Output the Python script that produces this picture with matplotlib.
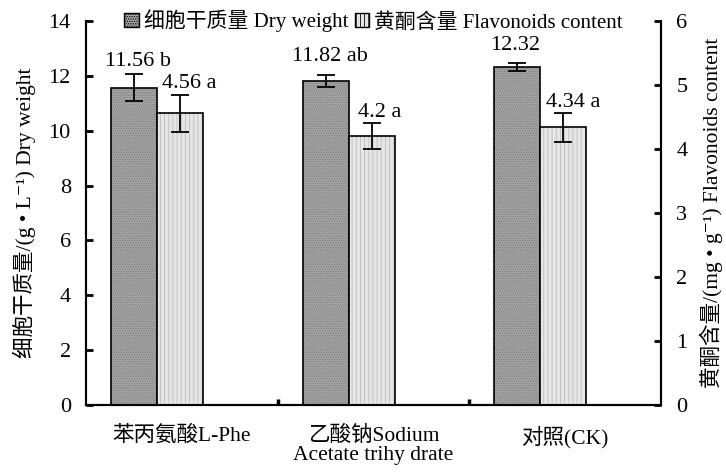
import matplotlib
matplotlib.use("Agg")
import matplotlib.pyplot as plt
from matplotlib.patches import Patch
import numpy as np

plt.rcParams['font.family'] = ['Liberation Serif', 'Noto Sans CJK SC', 'DejaVu Serif']
plt.rcParams['hatch.linewidth'] = 0.6

##### data
groups = ["苯丙氨酸L-Phe", "乙酸钠Sodium\nAcetate trihy drate", "对照(CK)"]
dry_weight = [11.56, 11.82, 12.32]
dry_err = [0.49, 0.22, 0.15]
flavonoids = [4.56, 4.2, 4.34]
flav_err = [0.29, 0.20, 0.23]
dry_labels = ["11.56 b", "11.82 ab", "12.32"]
flav_labels = ["4.56 a", "4.2 a", "4.34 a"]

fig = plt.figure(figsize=(7.26, 4.72), dpi=100)
ax = fig.add_axes([0.1185, 0.142, 0.7920, 0.8135])
ax2 = ax.twinx()

x = np.arange(len(groups))
w = 0.24
x_dry = x + 0.13
x_flav = x + 0.37

# hatched fill first, then black outline on top
ax.bar(x_dry, dry_weight, w, align='edge', color='#a4a4a4', edgecolor='#7a7a7a',
       hatch='.......', linewidth=0, zorder=2)
ax.bar(x_dry, dry_weight, w, align='edge', fill=False, edgecolor='black',
       linewidth=1.2, zorder=3)
ax.errorbar(x_dry + w / 2, dry_weight, yerr=dry_err, fmt='none', ecolor='black',
            elinewidth=1.3, capsize=6.5, capthick=1.3, zorder=4)

ax2.bar(x_flav, flavonoids, w, align='edge', color='#e6e6e6', edgecolor='#bdbdbd',
        hatch='||||', linewidth=0, zorder=2)
ax2.bar(x_flav, flavonoids, w, align='edge', fill=False, edgecolor='black',
        linewidth=1.2, zorder=3)
ax2.errorbar(x_flav + w / 2, flavonoids, yerr=flav_err, fmt='none', ecolor='black',
             elinewidth=1.3, capsize=6.5, capthick=1.3, zorder=4)

# value labels
dry_off = [0.02, 0.02, -0.01]
flav_off = [0.05, 0.04, 0.05]
dry_y = [12.18, 12.36, 12.76]
flav_y = [4.87, 4.42, 4.58]
for i in range(len(groups)):
    ax.text(x_dry[i] + w / 2 + dry_off[i], dry_y[i], dry_labels[i], ha='center',
            va='bottom', fontsize=16)
    ax2.text(x_flav[i] + w / 2 + flav_off[i], flav_y[i], flav_labels[i], ha='center',
             va='bottom', fontsize=16)

ax.set_xlim(0, 3)
ax.set_ylim(0, 14)
ax2.set_ylim(0, 6)
ax.set_yticks(np.arange(0, 15, 2))
ax2.set_yticks(np.arange(0, 7, 1))

ax.set_xticks([1, 2])
ax.set_xticklabels([])
ax.set_xticks(x + 0.5, minor=True)
ax.set_xticklabels(groups, minor=True, fontsize=15.5, linespacing=1.0)
ax.tick_params(axis='x', which='major', direction='in', length=4, width=2.5)
ax.tick_params(axis='x', which='minor', length=0, pad=15)
ax.tick_params(axis='y', direction='in', length=5, width=2, labelsize=16, pad=11)
ax2.tick_params(axis='y', direction='in', length=5, width=2, labelsize=16, pad=11)

for a in (ax, ax2):
    a.spines['top'].set_visible(False)
    for s in ('left', 'right', 'bottom'):
        a.spines[s].set_linewidth(1.5)

ax.set_ylabel("细胞干质量/(g • L⁻¹) Dry weight", fontsize=15.5, labelpad=9)
ax2.set_ylabel("黄酮含量/(mg • g⁻¹) Flavonoids content", fontsize=15.5, labelpad=9)

# legend
handles = [Patch(facecolor='#a4a4a4', edgecolor='black', hatch='.......', linewidth=1),
           Patch(facecolor='#e6e6e6', edgecolor='black', hatch='||||', linewidth=1)]
ax.legend(handles, ["细胞干质量 Dry weight", "黄酮含量 Flavonoids content"],
          loc='center', bbox_to_anchor=(0.5, 1.0), ncol=2, frameon=False,
          fontsize=15, handlelength=0.7, handleheight=0.7, handletextpad=0.25,
          columnspacing=0.3, borderpad=0)

fig.savefig("out.png", dpi=100)
